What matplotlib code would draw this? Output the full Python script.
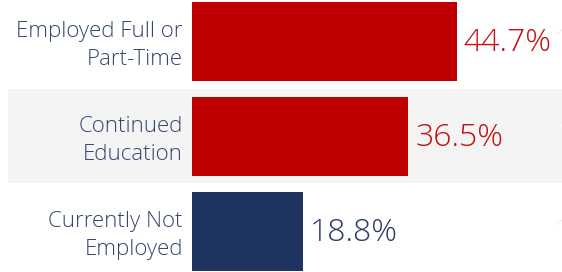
import matplotlib.pyplot as plt

# data
categories = ['Employed Full or\nPart-Time', 'Continued\nEducation', 'Currently Not\nEmployed']
values = [44.7, 36.5, 18.8]
bar_colors = ['#c00000', '#c00000', '#203461']
text_colors = ['#c41010', '#c41010', '#2a3a66']

plt.rcParams['font.family'] = ['Open Sans', 'DejaVu Sans']

fig = plt.figure(figsize=(5.62, 2.72), dpi=100)
ax = fig.add_axes([0, 0, 1, 1])

px = 5.92  # pixels per percent point
x0 = -192 / px
x1 = (562 - 192) / px
ax.set_xlim(x0, x1)
ax.set_ylim((272 - 41.5) / 95, -41.5 / 95)

# banded middle row
ax.axhspan(0.5, 1.49, xmin=8 / 562, xmax=1, color='#f4f4f4', zorder=0, lw=0)

ypos = list(range(len(values)))
ax.barh(ypos, values, height=79 / 95, color=bar_colors, zorder=2)

for i, (cat, v) in enumerate(zip(categories, values)):
    ax.text(-9 / px, i + 0.04, cat, ha='right', va='center', fontsize=16,
            color='#34466c', linespacing=1.45, fontweight='light')
    ax.text(v + 7 / px, i + 0.02, f'{v}%', ha='left', va='center', fontsize=23,
            color=text_colors[i], fontweight='light')
    # faint cut-off label at the right edge
    ax.text((553 - 192) / px, i + 0.02, '1', ha='left', va='center', fontsize=23,
            color='#fbfbfb' if i == 1 else '#eeeeee', clip_on=True,
            fontweight='light')

ax.axis('off')
fig.savefig('out.png', dpi=100)
